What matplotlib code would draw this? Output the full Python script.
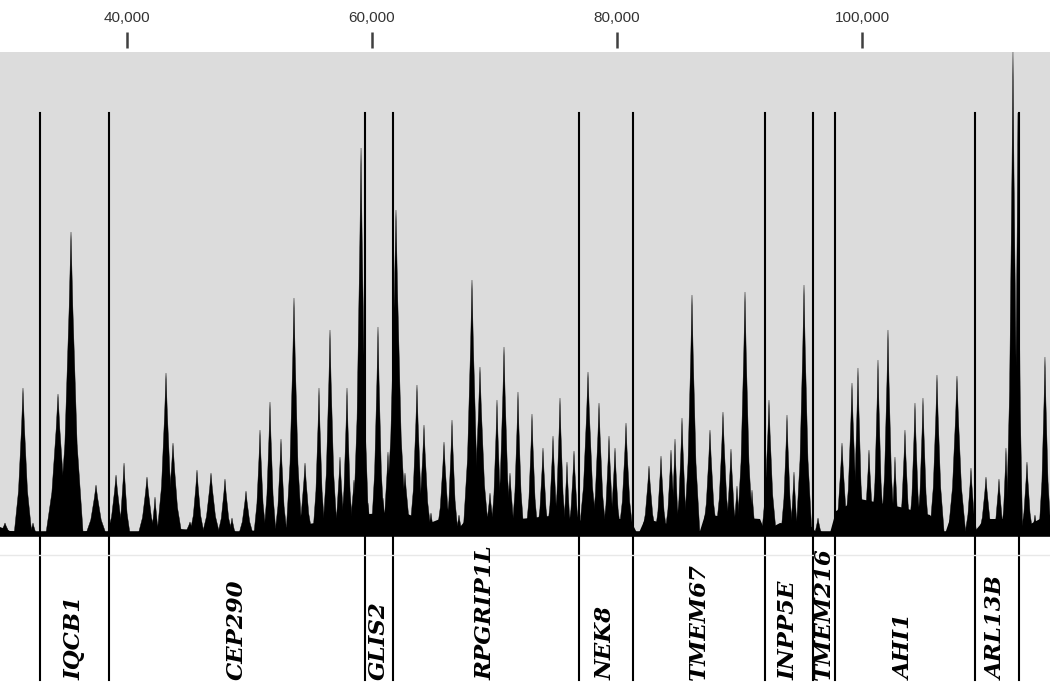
import matplotlib.pyplot as plt

# read coverage peaks: position (bp), height, half width (bp)
peak_pos = [30041, 31510, 32327, 34368, 35429, 37470, 39104, 39757, 41632, 42286,
            43184, 43755, 45143, 45714, 46857, 47999, 48571, 49714, 50857, 51673,
            52571, 53632, 54531, 55673, 56571, 57387, 57959, 58530, 59104, 59673,
            60489, 60897, 61305, 61958, 62693, 63672, 64244, 64815, 65877, 66530,
            67101, 68162, 68815, 69632, 70203, 70775, 71264, 71917, 73060, 73958,
            74775, 75346, 75917, 76489, 77632, 78530, 79346, 79836, 80734, 82611,
            83591, 84407, 84734, 85305, 86121, 87590, 88651, 89304, 89794, 90448,
            91019, 92406, 93876, 94447, 95264, 96407, 98366, 99182, 99671, 100569,
            101304, 102120, 102691, 103507, 104324, 104977, 106120, 107752, 108895, 110120,
            111181, 111752, 112323, 112731, 113466, 114119, 114935]
peak_h = [12, 147, 12, 141, 303, 50, 60, 72, 58, 38,
          162, 92, 13, 65, 62, 56, 17, 44, 105, 133,
          96, 237, 72, 147, 205, 78, 147, 55, 387, 32,
          208, 37, 83, 325, 62, 150, 110, 22, 93, 115,
          20, 255, 168, 42, 135, 188, 62, 143, 121, 87,
          99, 137, 73, 84, 163, 132, 99, 87, 112, 69,
          79, 85, 96, 117, 240, 105, 123, 86, 49, 243,
          45, 135, 120, 63, 250, 17, 92, 152, 167, 85,
          175, 205, 78, 105, 132, 137, 160, 159, 67, 58,
          56, 87, 483, 422, 73, 20, 178]
peak_w = [600, 730, 380, 1000, 1000, 850, 730, 500, 730, 380,
          730, 730, 600, 600, 730, 600, 380, 600, 500, 500,
          500, 650, 600, 500, 600, 500, 500, 500, 650, 380,
          550, 380, 500, 850, 600, 600, 600, 380, 600, 500,
          380, 730, 730, 500, 500, 600, 500, 500, 500, 500,
          500, 500, 380, 500, 730, 600, 500, 500, 600, 600,
          500, 500, 380, 500, 650, 600, 600, 500, 380, 650,
          380, 600, 500, 380, 650, 380, 600, 600, 500, 500,
          500, 550, 380, 500, 500, 500, 600, 730, 500, 600,
          500, 380, 550, 380, 500, 380, 500]

# low background coverage
floor_pos = [29633, 30449, 32898, 33306, 36980, 40245, 41061, 44326, 49224, 50041,
             53306, 57387, 59020, 62285, 64734, 65550, 67183, 67999, 72081, 75346,
             76815, 77142, 81060, 81714, 82285, 86774, 87182, 91672, 92082, 93306,
             95918, 96163, 97388, 97878, 99838, 103100, 105549, 106773, 107182, 108406,
             109225, 110041, 112082, 113303, 114528, 115345]
floor_h = [8, 4, 2, 1, 4, 0, 2, 6, 2, 4,
           8, 16, 20, 24, 12, 16, 8, 20, 16, 20,
           12, 16, 16, 0, 16, 4, 20, 16, 4, 12,
           8, 4, 2, 24, 36, 28, 20, 1, 16, 1,
           4, 16, 16, 8, 16, 16]

# gene boundaries and names
bounds = [32898, 38531, 59429, 61714, 76898, 81306, 92082, 96000, 97796, 109225, 112816]
genes = ['IQCB1', 'CEP290', 'GLIS2', 'RPGRIP1L', 'NEK8', 'TMEM67',
         'INPP5E', 'TMEM216', 'AHI1', 'ARL13B']
ticks = [40000, 60000, 80000, 100000]

fig = plt.figure(figsize=(10.5, 6.83), dpi=100)
ax = fig.add_axes([0, 1 - 537 / 683, 1, (537 - 52) / 683])
ax.set_xlim(29633, 115345)
ax.set_ylim(-2, 483)
ax.set_facecolor('#dcdcdc')

ax.fill_between(floor_pos, floor_h, 0, color='black', lw=0)
shape_x = [-1, -0.5, -0.15, 0, 0.15, 0.5, 1]
shape_y = [0, 0.3, 0.75, 1, 0.75, 0.3, 0]
for c, h, w in zip(peak_pos, peak_h, peak_w):
    ax.fill([c + sx * w for sx in shape_x], [sy * h for sy in shape_y],
            color='black', lw=0.3, ec='black')

ax.axhline(1, color='black', lw=4)

for b in bounds:
    ax.plot([b, b], [-145, 422], color='black', lw=1.5, clip_on=False)
ax.plot([29633, 115345], [-20, -20], color='#e8e8e8', lw=1, clip_on=False)

for i, g in enumerate(genes):
    ax.text((bounds[i] + bounds[i + 1]) / 2, -145, g, rotation=90,
            ha='center', va='bottom', family='DejaVu Serif',
            weight='bold', style='italic', fontsize=16.5, clip_on=False)

for s in ax.spines.values():
    s.set_visible(False)
ax.spines['top'].set_position(('outward', 3))
ax.xaxis.tick_top()
ax.set_xticks(ticks)
ax.set_xticklabels([f'{t:,}' for t in ticks], family='Liberation Sans',
                   fontsize=11, color='#333333')
ax.tick_params(axis='x', length=11.5, width=1.8, color='#404040', pad=5)
ax.set_yticks([])

fig.savefig('out.png', dpi=100)
